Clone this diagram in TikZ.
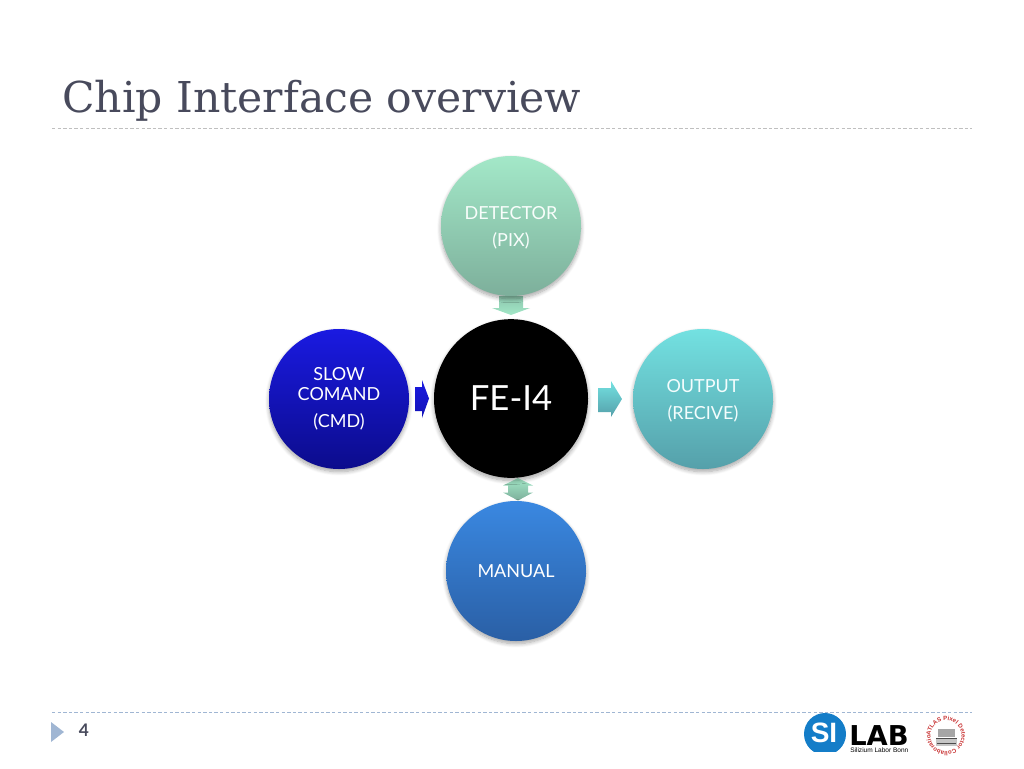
\documentclass[tikz,border=0pt]{standalone}
\usepackage{fontspec}
\setmainfont{Lato}
\newfontfamily\titlefont{DejaVu Serif}
\newfontfamily\logofont{Liberation Sans}
\newfontfamily\labfont{DejaVu Sans}
\usetikzlibrary{shapes.geometric,shadows.blur,decorations.text}
\definecolor{titlegray}{RGB}{72,74,92}
\definecolor{footblue}{RGB}{160,182,211}
\definecolor{silabblue}{RGB}{20,125,200}
\definecolor{atlasred}{RGB}{200,50,50}
\definecolor{mintTop}{RGB}{163,232,200}
\definecolor{mintBot}{RGB}{125,175,155}
\definecolor{cmdTop}{RGB}{26,26,225}
\definecolor{cmdBot}{RGB}{12,12,140}
\definecolor{outTop}{RGB}{115,225,225}
\definecolor{outBot}{RGB}{85,160,170}
\definecolor{manTop}{RGB}{58,136,225}
\definecolor{manBot}{RGB}{42,95,165}
\newcommand{\toppad}{\rule{0pt}{12pt}}
\tikzset{
  softshadow/.style={blur shadow={shadow xshift=0pt,shadow yshift=-2pt,shadow blur radius=3pt,shadow blur steps=8,shadow opacity=35}},
  blob/.style={circle,minimum size=105pt,inner sep=0pt,align=center,text=white,font=\fontsize{13.5}{15}\selectfont,softshadow},
  rule/.style={line width=0.6pt,dash pattern=on 2.6pt off 1.6pt}
}
\begin{document}
\begin{tikzpicture}[x=0.75pt,y=0.75pt,yscale=-1]
\useasboundingbox (0,0) rectangle (1024,768);

% Title
\node (title) [anchor=base west,inner sep=0pt,text=titlegray,font=\titlefont\fontsize{31.9}{36}\selectfont] at (62,112) {Chip Interface overview};
\coordinate (ruleAl) at (52,128);
\coordinate (ruleAr) at (972,128);
\draw [rule,color=gray!50] (ruleAl) -- (ruleAr);

% Block arrows
\path [top color=mintBot!60!mintTop,bottom color=mintTop] (499,296) -- (523,296) -- (523,308) -- (530,308) -- (511,315) -- (492,308) -- (499,308) -- cycle;
\path [top color=cmdTop,bottom color=cmdBot!50!cmdTop] (415,387) -- (422,387) -- (422,380) -- (429,398.5) -- (422,418) -- (422,411) -- (415,411) -- cycle;
\path [top color=outTop,bottom color=outBot] (598,388) -- (611,388) -- (611,381) -- (622,399) -- (611,417) -- (611,412) -- (598,412) -- cycle;
\path [top color=mintTop,bottom color=mintBot] (518,478) -- (533,485.5) -- (528,485.5) -- (528,492.5) -- (533,492.5) -- (518,500.5) -- (503,492.5) -- (508,492.5) -- (508,485.5) -- (503,485.5) -- cycle;

% Circles
\node (detector) [blob,text=white!92!mintTop,top color=mintTop,bottom color=mintBot] at (511,226) {\toppad DETECTOR\\[5.5pt](PIX)};
\node (cmd) [blob,top color=cmdTop,bottom color=cmdBot] at (339,399) {SLOW\\[-0.5pt]COMAND\\[5.5pt](CMD)};
\node (output) [blob,text=white!92!outTop,top color=outTop,bottom color=outBot] at (703,399) {\toppad OUTPUT\\[5.5pt](RECIVE)};
\node (manual) [blob,top color=manTop,bottom color=manBot] at (516,571) {MANUAL};
\node (fe) [blob,ellipse,minimum width=115.5pt,minimum height=119pt,fill=black,font=\fontsize{26}{30}\selectfont] at (511,398.5) {FE-I4};

% Footer
\coordinate (ruleBl) at (52,712);
\coordinate (ruleBr) at (972,712);
\draw [rule,color=footblue] (ruleBl) -- (ruleBr);
\fill [footblue] (51,722) -- (64,732) -- (51,742) -- cycle;
\node (page) [text=titlegray,inner sep=0pt,font=\bfseries\fontsize{13}{15}\selectfont] at (84,730) {4};

% Logo
\begin{scope}
\clip (800,708) rectangle (850,751.5);
\fill [silabblue] (825,734) circle [radius=21];
\end{scope}
\node (si) [text=white,inner sep=0pt,font=\logofont\bfseries\fontsize{21}{22}\selectfont] at (824,733) {SI};
\node (lab) [anchor=base west,inner sep=0pt,font=\labfont\bfseries\fontsize{20.5}{21}\selectfont] at (849,745.5) {LAB};
\node (bonn) [anchor=base west,inner sep=0pt,font=\logofont\fontsize{4.9}{5}\selectfont] at (850,752.5) {Silizium Labor Bonn};
\begin{scope}[shift={(946,736)},yscale=-1]
\path [decorate,decoration={text along path,text align={fit to path},text={|\logofont\bfseries\fontsize{4.5}{5}\selectfont\color{atlasred}|ATLAS Pixel Detector Collaboration}}] (180:15.5) arc [start angle=180,end angle=-180,radius=15.5];
\end{scope}
\fill [gray!70] (938,729) rectangle (955,737);
\fill [gray!45] (936,739) rectangle (957,746);
\draw [black!70,line width=0.4pt] (936,738) -- (957,738) (937,743) -- (956,743);

\end{tikzpicture}
\end{document}
